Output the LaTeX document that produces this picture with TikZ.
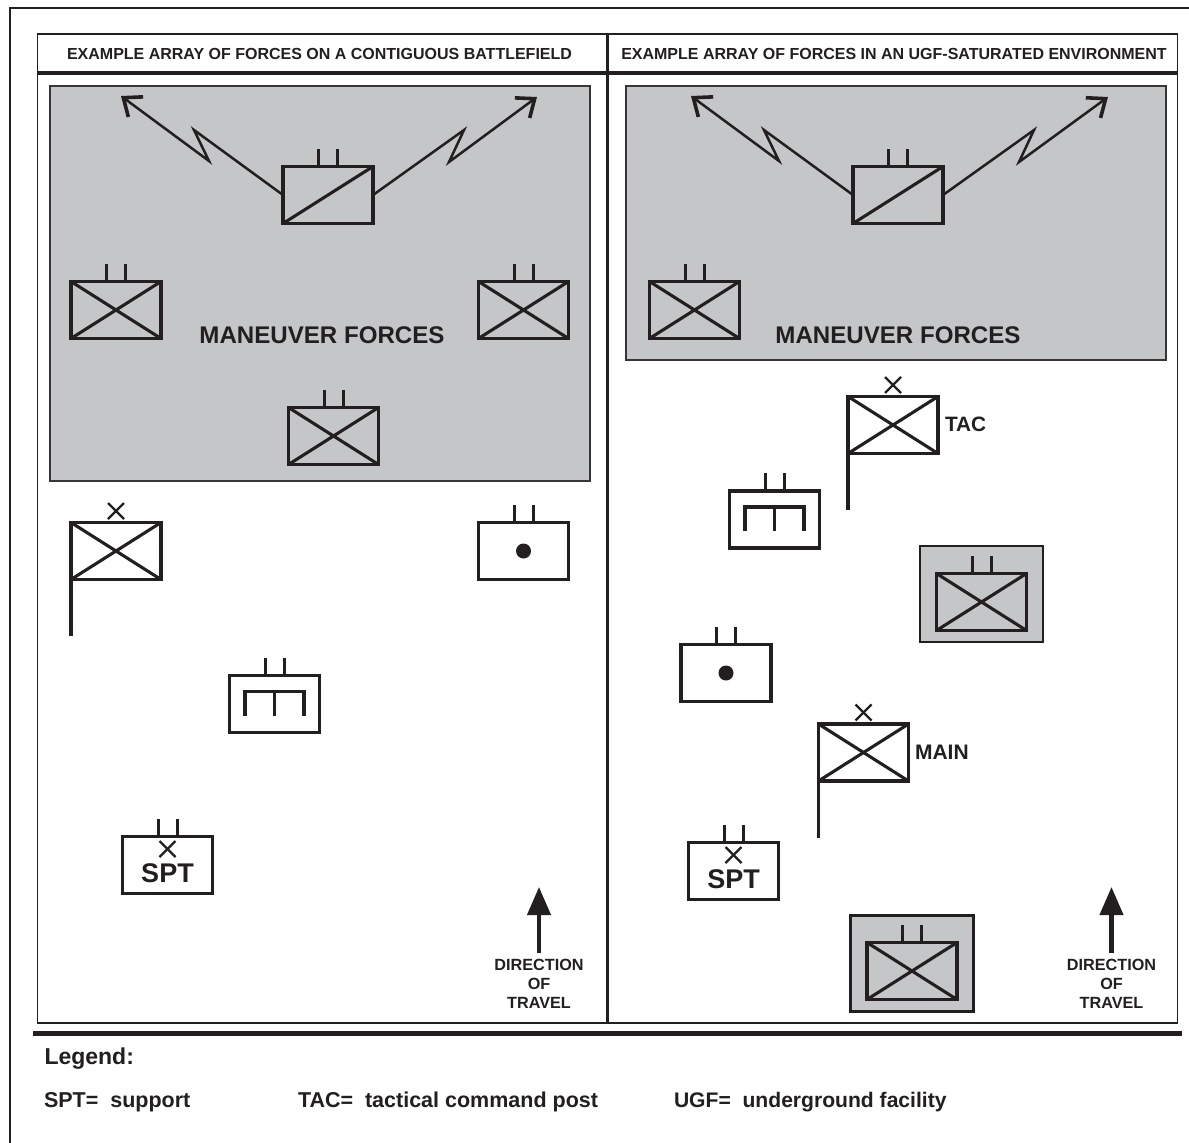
\documentclass[tikz,border=0pt]{standalone}
\usepackage{fontspec}
\setmainfont{Liberation Sans}
\usetikzlibrary{arrows.meta}
\definecolor{ink}{HTML}{231F20}
\definecolor{panelgray}{HTML}{C5C6C8}
\newcommand{\fs}[1]{\fontsize{#1}{#1}\selectfont\bfseries}
\tikzset{
  frameline/.style={draw=ink,line width=1.8pt},
  divline/.style={draw=ink,line width=3.2pt},
  grayzone/.style={draw=ink!90,line width=1.6pt,fill=panelgray,minimum width=#1,inner sep=0pt,outer sep=0pt},
  symbox/.style={draw=ink,line width=3.4pt,minimum width=90pt,minimum height=57pt,inner sep=0pt,outer sep=0pt},
  ugfbox/.style={draw=ink,line width=2.2pt,fill=panelgray,minimum width=123pt,minimum height=96pt,inner sep=0pt,outer sep=0pt},
  symline/.style={draw=ink,line width=3.1pt},
  antenna/.style={draw=ink,line width=3pt},
  pole/.style={draw=ink,line width=3.4pt},
  smallx/.style={draw=ink,line width=2.4pt},
  radio/.style={draw=ink,line width=2.5pt,line join=miter,-{Straight Barb[length=15.5pt,width=25pt,line width=3.6pt]}},
  travel/.style={draw=ink,line width=4.2pt,-{Triangle[length=28pt,width=23pt]}},
  lbl/.style={text=ink,inner sep=0pt,outer sep=0pt,align=center},
  lblw/.style={text=ink,inner sep=0pt,outer sep=0pt,anchor=west},
}
% box with two antennas
\newcommand{\tsym}[3]{%
  \node[symbox] (#1) at (#2,#3) {};
  \draw[antenna] ([xshift=-9.5pt]#1.north) -- ++(0,-18);
  \draw[antenna] ([xshift=9.5pt]#1.north) -- ++(0,-18);
}
\newcommand{\crossin}[1]{%
  \draw[symline] (#1.north west) -- (#1.south east);
  \draw[symline] (#1.south west) -- (#1.north east);
}
\newcommand{\tankx}[3]{\tsym{#1}{#2}{#3}\crossin{#1}}
\newcommand{\flagx}[3]{%
  \node[symbox] (#1) at (#2,#3) {};
  \crossin{#1}
  \draw[pole] (#1.south west) -- ++(0,56.5);
  \draw[smallx] ([shift={(-8pt,32pt)}]#1.center) -- ([shift={(8pt,48pt)}]#1.center);
  \draw[smallx] ([shift={(-8pt,48pt)}]#1.center) -- ([shift={(8pt,32pt)}]#1.center);
}
\newcommand{\dotsym}[3]{%
  \tsym{#1}{#2}{#3}
  \node[circle,fill=ink,minimum size=15pt,inner sep=0pt] (#1d) at (#1.center) {};
}
\newcommand{\esym}[3]{%
  \tsym{#1}{#2}{#3}
  \draw[symline,line cap=butt] ([shift={(-29.5pt,-11.5pt)}]#1.center) -- ([shift={(-29.5pt,12.5pt)}]#1.center) -- ([shift={(29.5pt,12.5pt)}]#1.center) -- ([shift={(29.5pt,-11.5pt)}]#1.center);
  \draw[symline] ([shift={(0pt,12.5pt)}]#1.center) -- ([shift={(0pt,-11.5pt)}]#1.center);
}
\newcommand{\sptsym}[3]{%
  \tsym{#1}{#2}{#3}
  \draw[smallx] ([shift={(-8pt,24pt)}]#1.center) -- ([shift={(8pt,8pt)}]#1.center);
  \draw[smallx] ([shift={(-8pt,8pt)}]#1.center) -- ([shift={(8pt,24pt)}]#1.center);
  \node[lbl] (#1t) at ([yshift=-8pt]#1.center) {\fs{27}SPT};
}
\newcommand{\dirtravel}[2]{%
  \coordinate (#1tip) at (#2,887);
  \coordinate (#1foot) at (#2,953);
  \draw[travel] (#1foot) -- (#1tip);
  \node[lbl] (#1a) at (#2,964.5) {\fs{16.2}DIRECTION};
  \node[lbl] (#1b) at (#2,984) {\fs{16.2}OF};
  \node[lbl] (#1c) at (#2,1003) {\fs{16.2}TRAVEL};
}
\begin{document}
\begin{tikzpicture}[x=1pt,y=-1pt]
\useasboundingbox (0,0) rectangle (1189,1143);
\fill[white] (0,0) rectangle (1189,1143);
% outer frame, open to the image edges
\draw[draw=ink,line width=2.8pt] (10,1143) -- (10,8) -- (1189,8);
% panel frame
\draw[frameline] (37.5,34) rectangle (1177.5,1023);
\draw[divline] (37.5,73) -- (1177.5,73);
\draw[divline] (607.7,34) -- (607.7,1023);
\draw[draw=ink,line width=5.5pt] (33,1033.5) -- (1182,1033.5);
% headers
\node[lbl] (hl) at (319.5,54) {\fs{16}EXAMPLE ARRAY OF FORCES ON A CONTIGUOUS BATTLEFIELD};
\node[lbl] (hr) at (894,54) {\fs{16}EXAMPLE ARRAY OF FORCES IN AN UGF-SATURATED ENVIRONMENT};
% gray zones
\node[grayzone=540pt,minimum height=395pt] (zl) at (320,283.5) {};
\node[grayzone=540pt,minimum height=274pt] (zr) at (896,223) {};
% left panel: maneuver forces
\node[symbox] (cl) at (328,195) {};
\draw[antenna] ([xshift=-9.5pt]cl.north) -- ++(0,-18);
\draw[antenna] ([xshift=9.5pt]cl.north) -- ++(0,-18);
\draw[symline] (cl.south west) -- (cl.north east);
\coordinate (tl1) at (121,96);
\coordinate (tl2) at (537,97);
\draw[radio] (cl.west) -- (194,130) -- (209,161) -- (tl1);
\draw[radio] (cl.east) -- (464,130) -- (449,162) -- (tl2);
\tankx{la}{116}{310}
\tankx{lb}{523.5}{310}
\tankx{lc}{333.5}{436}
\node[lbl] (ml) at (322,335) {\fs{24.1}MANEUVER FORCES};
% left panel: rear
\flagx{lf}{116}{551}
\dotsym{ld}{523.5}{551}
\esym{le}{274.5}{704}
\sptsym{ls}{167.5}{865}
\dirtravel{dl}{539}
% right panel: maneuver forces
\node[symbox] (cr) at (898,195) {};
\draw[antenna] ([xshift=-9.5pt]cr.north) -- ++(0,-18);
\draw[antenna] ([xshift=9.5pt]cr.north) -- ++(0,-18);
\draw[symline] (cr.south west) -- (cr.north east);
\coordinate (tr1) at (691,96);
\coordinate (tr2) at (1108,97);
\draw[radio] (cr.west) -- (764,130) -- (779,161) -- (tr1);
\draw[radio] (cr.east) -- (1034,130) -- (1019,162) -- (tr2);
\tankx{ra}{694.5}{310}
\node[lbl] (mr) at (898,335) {\fs{24.1}MANEUVER FORCES};
% right panel: dispersed
\flagx{rt}{893}{425}
\node[lblw] (rtt) at (945,424) {\fs{20.8}TAC};
\esym{re}{774.5}{519.5}
\node[ugfbox] (u1) at (981.5,594) {};
\tankx{ru1}{981.5}{602}
\dotsym{rd}{726}{673}
\flagx{rm}{863.5}{752.5}
\node[lblw] (rmt) at (915,752) {\fs{21}MAIN};
\sptsym{rs}{733.5}{871}
\node[ugfbox] (u2) at (912,963.5) {};
\tankx{ru2}{912}{971}
\dirtravel{dr}{1111.5}
% legend
\node[lblw] (lg) at (44.5,1058.5) {\fs{23}Legend:};
\node[lblw] (l1) at (44,1102) {\fs{21.5}SPT=\ \ support};
\node[lblw] (l2) at (298,1102) {\fs{21.5}TAC=\ \ tactical command post};
\node[lblw] (l3) at (674,1102) {\fs{21.1}UGF=\ \ underground facility};
\end{tikzpicture}
\end{document}
